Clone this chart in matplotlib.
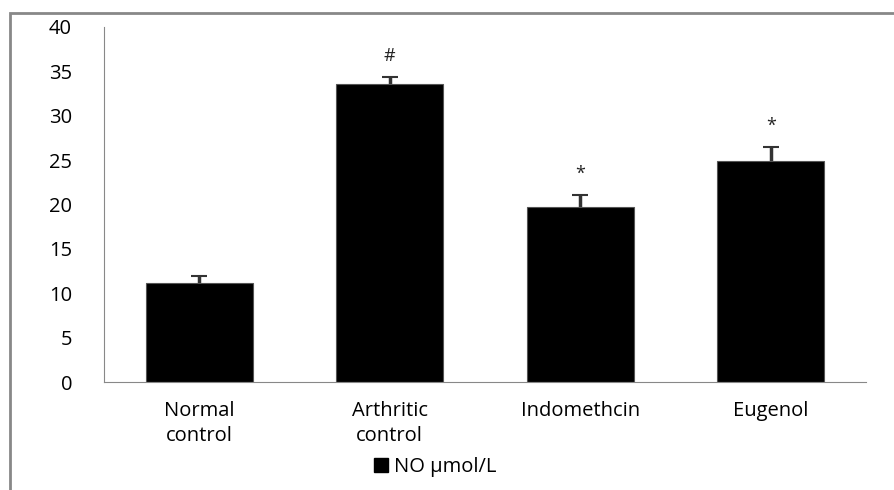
import matplotlib.pyplot as plt
from matplotlib.patches import Rectangle, Patch

plt.rcParams['font.family'] = ['Open Sans', 'DejaVu Sans']

groups = ['Normal\ncontrol', 'Arthritic\ncontrol', 'Indomethcin', 'Eugenol']
no_values = [11.1, 33.6, 19.7, 24.9]
no_errors = [0.9, 0.8, 1.4, 1.6]
marks = ['', '#', '*', '*']

fig = plt.figure(figsize=(8.94, 4.9), dpi=100)
# grey outer frame of the original chart area
fig.patches.append(Rectangle((10 / 894, -0.1), 1.2, 1 - 13 / 490 + 0.1,
                             transform=fig.transFigure, fill=False,
                             edgecolor='#888888', linewidth=2))

ax = fig.add_axes([104 / 894, 1 - 382 / 490, 762 / 894, 355 / 490])
x = list(range(len(groups)))
# error bars go behind the bars so only the upper half shows
ax.errorbar(x, no_values, yerr=no_errors, fmt='none', ecolor='#333333',
            elinewidth=2.5, capsize=6, capthick=1.5, zorder=1)
ax.bar(x, no_values, width=0.56, color='black', edgecolor='#555555',
       linewidth=0.8, zorder=2)
for i in x:
    if marks[i]:
        ax.text(i, no_values[i] + no_errors[i] + 1.3, marks[i], ha='center', va='bottom',
                fontsize=13, color='#222222')

ax.set_xlim(-0.5, len(groups) - 0.5)
ax.set_ylim(0, 40)
ax.set_yticks(range(0, 41, 5))
ax.set_xticks(x)
ax.set_xticklabels(groups, fontsize=14.5, linespacing=1.3)
ax.tick_params(axis='y', length=0, labelsize=14.5, pad=23)
ax.tick_params(axis='x', length=0, pad=14)
for side in ['top', 'right']:
    ax.spines[side].set_visible(False)
ax.spines['left'].set_color('#888888')
ax.spines['bottom'].set_color('#888888')

fig.legend(handles=[Patch(color='black', label='NO µmol/L')], loc='center',
           bbox_to_anchor=(435 / 894, 1 - 467 / 490), frameon=False, fontsize=14.5,
           handlelength=0.7, handleheight=0.7, handletextpad=0.3)

fig.savefig('out.png', dpi=100)
